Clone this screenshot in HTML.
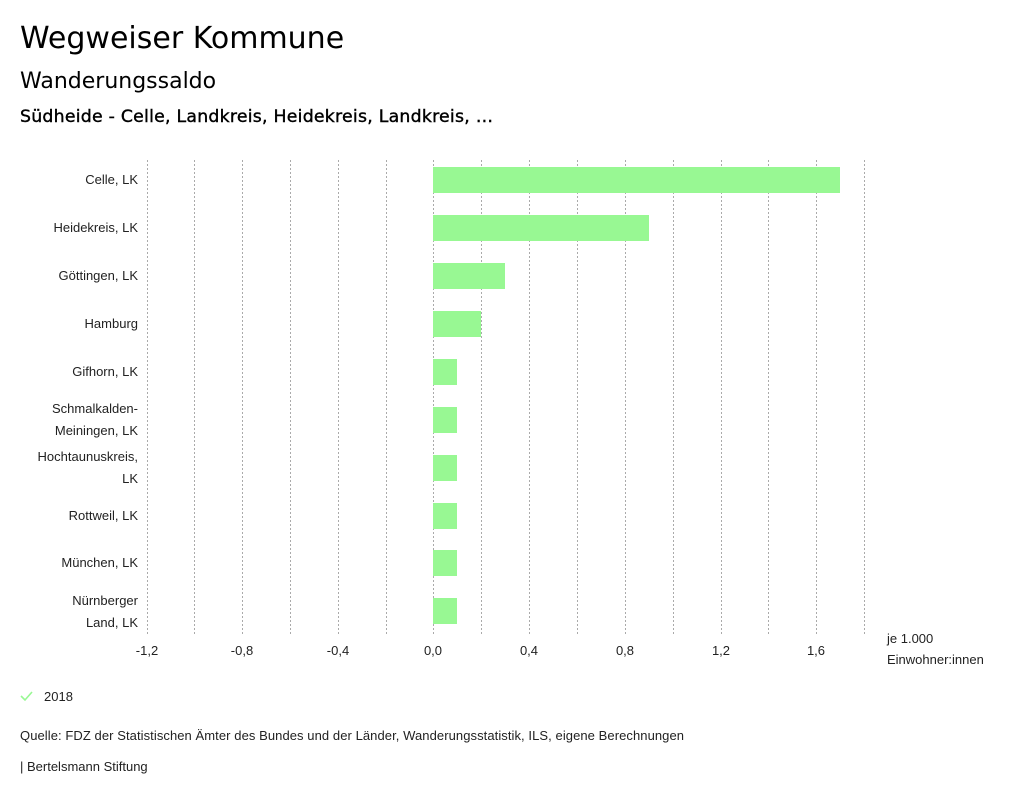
<!DOCTYPE html>
<html><head><meta charset="utf-8"><style>
body{margin:0;background:#fff;width:1024px;height:799px;overflow:hidden;font-family:"DejaVu Sans","Liberation Sans",sans-serif}
</style></head><body>
<svg width="1024" height="799" xmlns="http://www.w3.org/2000/svg">
<text x="20" y="48" font-size="30" font-family="DejaVu Sans, sans-serif" fill="#000">Wegweiser Kommune</text>
<text x="20" y="88" font-size="22" font-family="DejaVu Sans, sans-serif" fill="#000">Wanderungssaldo</text>
<text x="20" y="122" font-size="17.3" font-family="DejaVu Sans, sans-serif" fill="#000" stroke="#000" stroke-width="0.4" textLength="473">Südheide - Celle, Landkreis, Heidekreis, Landkreis, …</text>
<g stroke="#aaa" stroke-width="1" stroke-dasharray="2,2">
<line x1="147.5" y1="160" x2="147.5" y2="636"/><line x1="194.5" y1="160" x2="194.5" y2="636"/>
<line x1="242.5" y1="160" x2="242.5" y2="636"/><line x1="290.5" y1="160" x2="290.5" y2="636"/>
<line x1="338.5" y1="160" x2="338.5" y2="636"/><line x1="386.5" y1="160" x2="386.5" y2="636"/>
<line x1="433.5" y1="160" x2="433.5" y2="636"/><line x1="481.5" y1="160" x2="481.5" y2="636"/>
<line x1="529.5" y1="160" x2="529.5" y2="636"/><line x1="577.5" y1="160" x2="577.5" y2="636"/>
<line x1="625.5" y1="160" x2="625.5" y2="636"/><line x1="673.5" y1="160" x2="673.5" y2="636"/>
<line x1="721.5" y1="160" x2="721.5" y2="636"/><line x1="768.5" y1="160" x2="768.5" y2="636"/>
<line x1="816.5" y1="160" x2="816.5" y2="636"/><line x1="864.5" y1="160" x2="864.5" y2="636"/>
</g>
<g fill="#98f893">
<rect x="433" y="167" width="407" height="26"/>
<rect x="433" y="215" width="216" height="26"/>
<rect x="433" y="263" width="72" height="26"/>
<rect x="433" y="311" width="48" height="26"/>
<rect x="433" y="359" width="24" height="26"/>
<rect x="433" y="407" width="24" height="26"/>
<rect x="433" y="455" width="24" height="26"/>
<rect x="433" y="503" width="24" height="26"/>
<rect x="433" y="550" width="24" height="26"/>
<rect x="433" y="598" width="24" height="26"/>
</g>
<g font-family="Liberation Sans, sans-serif" font-size="13" fill="#222" text-anchor="end">
<text x="138" y="184">Celle, LK</text>
<text x="138" y="232">Heidekreis, LK</text>
<text x="138" y="280">Göttingen, LK</text>
<text x="138" y="328">Hamburg</text>
<text x="138" y="376">Gifhorn, LK</text>
<text x="138" y="413">Schmalkalden-</text>
<text x="138" y="435">Meiningen, LK</text>
<text x="138" y="461">Hochtaunuskreis,</text>
<text x="138" y="483">LK</text>
<text x="138" y="520">Rottweil, LK</text>
<text x="138" y="567">München, LK</text>
<text x="138" y="605">Nürnberger</text>
<text x="138" y="627">Land, LK</text>
</g>
<g font-family="Liberation Sans, sans-serif" font-size="13" fill="#222" text-anchor="middle">
<text x="147" y="655">-1,2</text><text x="242" y="655">-0,8</text><text x="338" y="655">-0,4</text>
<text x="433" y="655">0,0</text><text x="529" y="655">0,4</text><text x="625" y="655">0,8</text>
<text x="721" y="655">1,2</text><text x="816" y="655">1,6</text>
</g>
<g font-family="Liberation Sans, sans-serif" font-size="13" fill="#222">
<text x="887" y="643">je 1.000</text>
<text x="887" y="664">Einwohner:innen</text>
<path d="M21 696 L25 700 L32 692" stroke="#98f893" stroke-width="1.6" fill="none"/>
<text x="44" y="701">2018</text>
<text x="20" y="740" textLength="664">Quelle: FDZ der Statistischen Ämter des Bundes und der Länder, Wanderungsstatistik, ILS, eigene Berechnungen</text>
<text x="20" y="771">| Bertelsmann Stiftung</text>
</g>
</svg>
</body></html>
